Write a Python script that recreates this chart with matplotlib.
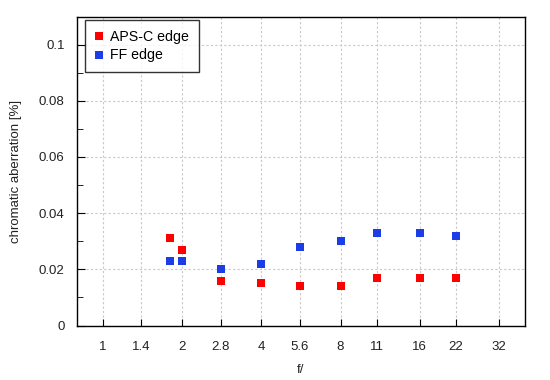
import matplotlib.pyplot as plt
from matplotlib.ticker import FixedLocator, MultipleLocator, NullLocator

plt.rcParams['font.family'] = ['Liberation Sans', 'DejaVu Sans']

# f-stops and chromatic aberration values
apertures = [1.8, 2, 2.8, 4, 5.6, 8, 11, 16, 22]
aps_c_edge = [0.031, 0.027, 0.016, 0.015, 0.014, 0.014, 0.017, 0.017, 0.017]
ff_edge = [0.023, 0.023, 0.020, 0.022, 0.028, 0.030, 0.033, 0.033, 0.032]

xticks = [1, 1.4, 2, 2.8, 4, 5.6, 8, 11, 16, 22, 32]
xtick_labels = ['1', '1.4', '2', '2.8', '4', '5.6', '8', '11', '16', '22', '32']

fig = plt.figure(figsize=(5.5, 3.8), dpi=100)
ax = fig.add_axes([77 / 550, 1 - 325.5 / 380, 448 / 550, 309 / 380])

ax.plot(apertures, aps_c_edge, 's', color='#ff0000', markersize=5.2,
        markeredgewidth=0, label='APS-C edge', zorder=3)
ax.plot(apertures, ff_edge, 's', color='#1a3de6', markersize=5.2,
        markeredgewidth=0, label='FF edge', zorder=3)

ax.set_xscale('log', base=2)
ax.set_xlim(0.797, 40.2)
ax.set_ylim(0, 0.11)

ax.xaxis.set_major_locator(FixedLocator(xticks))
ax.xaxis.set_minor_locator(NullLocator())
ax.set_xticklabels(xtick_labels)
ax.yaxis.set_major_locator(MultipleLocator(0.02))
ax.yaxis.set_minor_locator(MultipleLocator(0.01))
ax.yaxis.set_major_formatter(plt.FuncFormatter(lambda v, p: '%g' % round(v, 3)))

ax.tick_params(axis='both', which='both', direction='in', labelsize=9.5,
               colors='black', labelcolor='#222222')
ax.tick_params(axis='x', which='major', length=5, pad=11)
ax.tick_params(axis='y', which='major', length=6, pad=9)
ax.tick_params(axis='y', which='minor', length=4)

ax.grid(True, which='major', color='#c8c8c8', linestyle=(0, (2, 2)), linewidth=0.8)
for s in ax.spines.values():
    s.set_linewidth(1.0)
    s.set_color('black')

ax.set_xlabel('f/', fontsize=9.5, color='#222222', labelpad=8)
ax.set_ylabel('chromatic aberration [%]', fontsize=9.5, color='#222222', labelpad=12)

leg = ax.legend(loc='upper left', fontsize=10.2, frameon=True, fancybox=False,
                edgecolor='black', handlelength=0.6, handletextpad=0.45,
                borderpad=0.7, labelspacing=0.35, markerscale=1.0,
                borderaxespad=0, bbox_to_anchor=(0.018, 0.99))
leg.get_frame().set_linewidth(1.0)

fig.savefig('out.png', dpi=100)
